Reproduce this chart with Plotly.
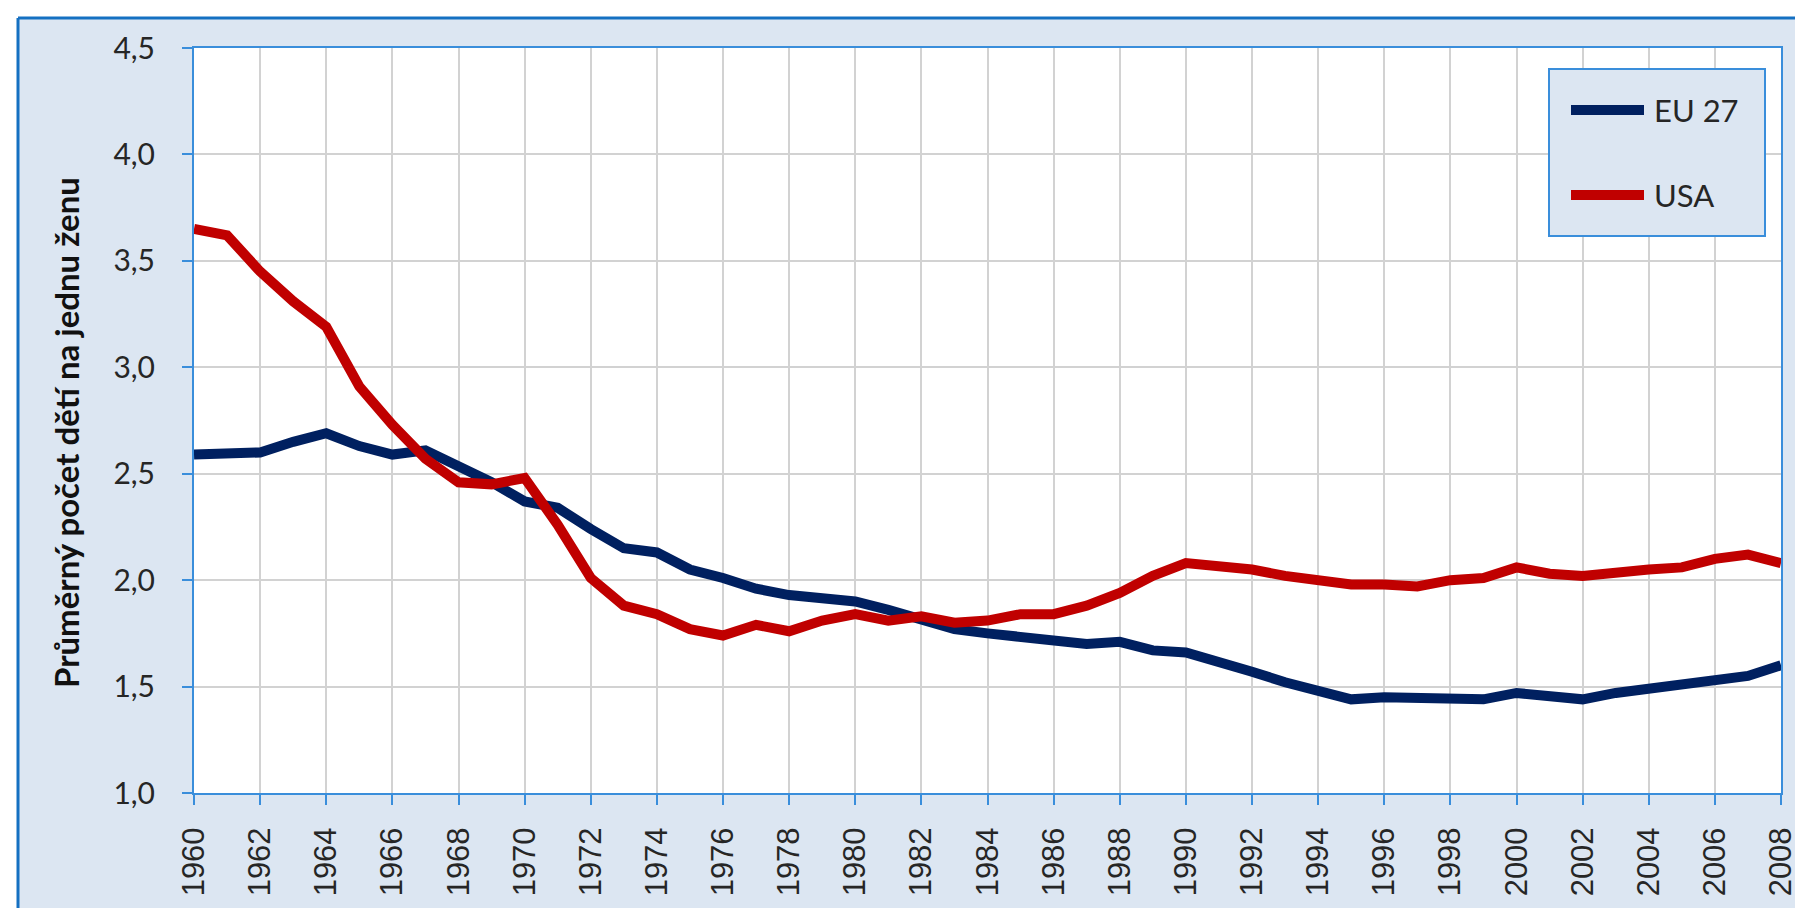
import plotly.graph_objects as go

years = list(range(1960, 2009))

eu27 = [
    2.59, 2.60, 2.60, 2.65, 2.69, 2.63, 2.59, 2.61, 2.54, 2.46,
    2.37, 2.34, 2.24, 2.15, 2.13, 2.05, 2.01, 1.96, 1.93, 1.91,
    1.90, 1.86, 1.82, 1.77, 1.75, 1.73, 1.71, 1.70, 1.71, 1.67,
    1.66, 1.62, 1.57, 1.52, 1.48, 1.44, 1.45, 1.45, 1.44, 1.44,
    1.47, 1.45, 1.44, 1.47, 1.49, 1.50, 1.53, 1.55, 1.60,
]

usa = [
    3.65, 3.62, 3.45, 3.31, 3.19, 2.91, 2.73, 2.57, 2.46, 2.45,
    2.48, 2.26, 2.01, 1.88, 1.84, 1.77, 1.74, 1.79, 1.76, 1.81,
    1.84, 1.81, 1.83, 1.80, 1.81, 1.84, 1.84, 1.88, 1.94, 2.02,
    2.08, 2.07, 2.05, 2.02, 2.00, 1.98, 1.98, 1.97, 2.00, 2.01,
    2.06, 2.03, 2.02, 2.04, 2.05, 2.06, 2.10, 2.12, 2.08,
]

series = [("EU 27", eu27, "#002060"), ("USA", usa, "#c00000")]

FRAME_BG = "#dce6f2"
BLUE = "#3a8edb"
GRID = "#d2d2d2"
TEXT = "#262626"

# pixel geometry of the plot area, used to place the frame / legend box
W, H = 1803, 908
L, R, T, B = 186, 30, 40, 123
PW, PH = W - L - R, H - T - B


def px(x):
    return (x - L) / PW


def py(y):
    return (H - B - y) / PH


fig = go.Figure()

for name, values, color in series:
    fig.add_trace(
        go.Scatter(
            x=years,
            y=values,
            mode="lines",
            name=name,
            line=dict(color=color, width=10),
            showlegend=False,
        )
    )

shapes = [
    # white strips outside the light-blue frame
    dict(type="rect", xref="paper", yref="paper", x0=px(-5), x1=px(W + 5),
         y0=py(10), y1=py(-5), fillcolor="white", line_width=0, layer="below"),
    dict(type="rect", xref="paper", yref="paper", x0=px(-5), x1=px(10),
         y0=py(H + 5), y1=py(-5), fillcolor="white", line_width=0, layer="below"),
    # frame border
    dict(type="line", xref="paper", yref="paper", x0=px(10), x1=px(W + 5),
         y0=py(10), y1=py(10), line=dict(color="#1570c2", width=3), layer="below"),
    dict(type="line", xref="paper", yref="paper", x0=px(10), x1=px(10),
         y0=py(10), y1=py(H + 5), line=dict(color="#1570c2", width=3), layer="below"),
    # legend box
    dict(type="rect", xref="paper", yref="paper", x0=px(1541), x1=px(1757),
         y0=py(228), y1=py(61), fillcolor=FRAME_BG,
         line=dict(color=BLUE, width=2), layer="above"),
]

annotations = [
    dict(
        text="<b>Průměrný počet dětí na jednu ženu</b>",
        xref="paper",
        yref="paper",
        x=px(58),
        y=py(425),
        xanchor="center",
        yanchor="middle",
        textangle=-90,
        showarrow=False,
        font=dict(family="Lato", size=33, color="#111111"),
    )
]

# legend entries: sample line + label
for i, (name, values, color) in enumerate(series):
    ly = 102 + i * 85
    shapes.append(
        dict(type="line", xref="paper", yref="paper", x0=px(1563), x1=px(1636),
             y0=py(ly), y1=py(ly), line=dict(color=color, width=10), layer="above")
    )
    annotations.append(
        dict(text=name, xref="paper", yref="paper", x=px(1644), y=py(ly),
             xanchor="left", yanchor="middle", showarrow=False,
             font=dict(family="Lato", size=31, color=TEXT))
    )

fig.update_layout(
    width=W,
    height=H,
    margin=dict(l=L, r=R, t=T, b=B, pad=0),
    paper_bgcolor=FRAME_BG,
    plot_bgcolor="white",
    separators=", ",
    shapes=shapes,
    annotations=annotations,
    showlegend=False,
)

fig.update_xaxes(
    range=[1960, 2008],
    tickmode="linear",
    tick0=1960,
    dtick=2,
    tickangle=-90,
    tickfont=dict(family="Liberation Sans", size=31, color=TEXT),
    ticklabelstandoff=10,
    ticks="outside",
    ticklen=10,
    tickwidth=2,
    tickcolor=BLUE,
    showline=True,
    linecolor=BLUE,
    linewidth=2,
    mirror=True,
    showgrid=True,
    gridcolor=GRID,
    gridwidth=2,
    zeroline=False,
)

fig.update_yaxes(
    range=[1.0, 4.5],
    tickmode="linear",
    tick0=1.0,
    dtick=0.5,
    tickformat=".1f",
    tickfont=dict(family="Lato", size=30, color=TEXT),
    ticklabelstandoff=21,
    ticks="outside",
    ticklen=10,
    tickwidth=2,
    tickcolor=BLUE,
    showline=True,
    linecolor=BLUE,
    linewidth=2,
    mirror=True,
    showgrid=True,
    gridcolor=GRID,
    gridwidth=2,
    zeroline=False,
)

fig.write_html("out.html")
